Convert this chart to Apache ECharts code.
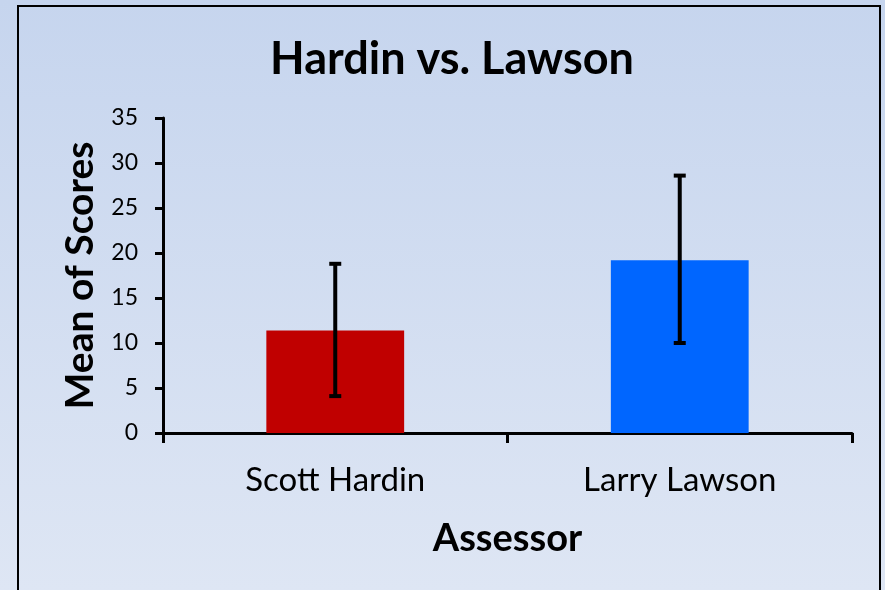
<!DOCTYPE html>
<html>
<head>
<meta charset="utf-8">
<script src="https://cdn.jsdelivr.net/npm/echarts@6/dist/echarts.min.js"></script>
<style>
  html, body { margin: 0; padding: 0; }
  #chart { width: 885px; height: 590px; }
</style>
</head>
<body>
<div id="chart"></div>
<script>
// 数据
const assessors = ['Scott Hardin', 'Larry Lawson'];
const meanScores = [11.4, 19.2];
const errLow = [4.1, 10.0];
const errHigh = [18.8, 28.6];
const barColors = ['#c00000', '#0066ff'];

const FONT = 'Lato, "Noto Sans", sans-serif';

const chart = echarts.init(document.getElementById('chart'));

const option = {
  animation: false,
  backgroundColor: new echarts.graphic.LinearGradient(0, 0, 0, 1, [
    { offset: 0, color: '#c6d5ee' },
    { offset: 1, color: '#dee6f4' }
  ]),
  title: {
    text: 'Hardin vs. Lawson',
    left: 447,
    textAlign: 'center',
    top: 32,
    textStyle: { fontFamily: FONT, fontWeight: 'bold', fontSize: 45, color: '#000' }
  },
  graphic: [
    {
      type: 'rect',
      shape: { x: 18, y: 6, width: 862, height: 600 },
      style: { fill: 'none', stroke: '#000', lineWidth: 2 },
      silent: true
    }
  ],
  grid: { left: 163, right: 33, top: 118, bottom: 157 },
  xAxis: {
    type: 'category',
    data: assessors,
    name: 'Assessor',
    nameLocation: 'middle',
    nameGap: 87,
    nameTextStyle: { fontFamily: FONT, fontWeight: 'bold', fontSize: 38, color: '#000' },
    axisLine: { lineStyle: { color: '#000', width: 3 } },
    axisTick: { show: true, length: 10, lineStyle: { color: '#000', width: 3 } },
    axisLabel: { fontFamily: FONT, fontSize: 33, color: '#000', margin: 31 }
  },
  yAxis: {
    type: 'value',
    min: 0,
    max: 35,
    interval: 5,
    name: 'Mean of Scores',
    nameLocation: 'middle',
    nameGap: 63,
    nameTextStyle: { fontFamily: FONT, fontWeight: 'bold', fontSize: 39, color: '#000' },
    axisLine: { show: true, lineStyle: { color: '#000', width: 3 } },
    axisTick: { show: true, length: 8, lineStyle: { color: '#000', width: 3 } },
    axisLabel: { fontFamily: FONT, fontSize: 23, color: '#000', margin: 25 },
    splitLine: { show: false }
  },
  series: [
    {
      type: 'bar',
      barWidth: '40%',
      data: meanScores.map((v, i) => ({ value: v, itemStyle: { color: barColors[i] } }))
    },
    {
      type: 'custom',
      data: assessors.map((c, i) => [i, errLow[i], errHigh[i]]),
      z: 10,
      renderItem: function (params, api) {
        const lo = api.coord([api.value(0), api.value(1)]);
        const hi = api.coord([api.value(0), api.value(2)]);
        const half = 6;
        const style = { stroke: '#000', lineWidth: 4 };
        return {
          type: 'group',
          children: [
            { type: 'line', shape: { x1: lo[0], y1: lo[1], x2: hi[0], y2: hi[1] }, style: style },
            { type: 'line', shape: { x1: hi[0] - half, y1: hi[1], x2: hi[0] + half, y2: hi[1] }, style: style },
            { type: 'line', shape: { x1: lo[0] - half, y1: lo[1], x2: lo[0] + half, y2: lo[1] }, style: style }
          ]
        };
      }
    }
  ]
};

chart.setOption(option);
</script>
</body>
</html>
